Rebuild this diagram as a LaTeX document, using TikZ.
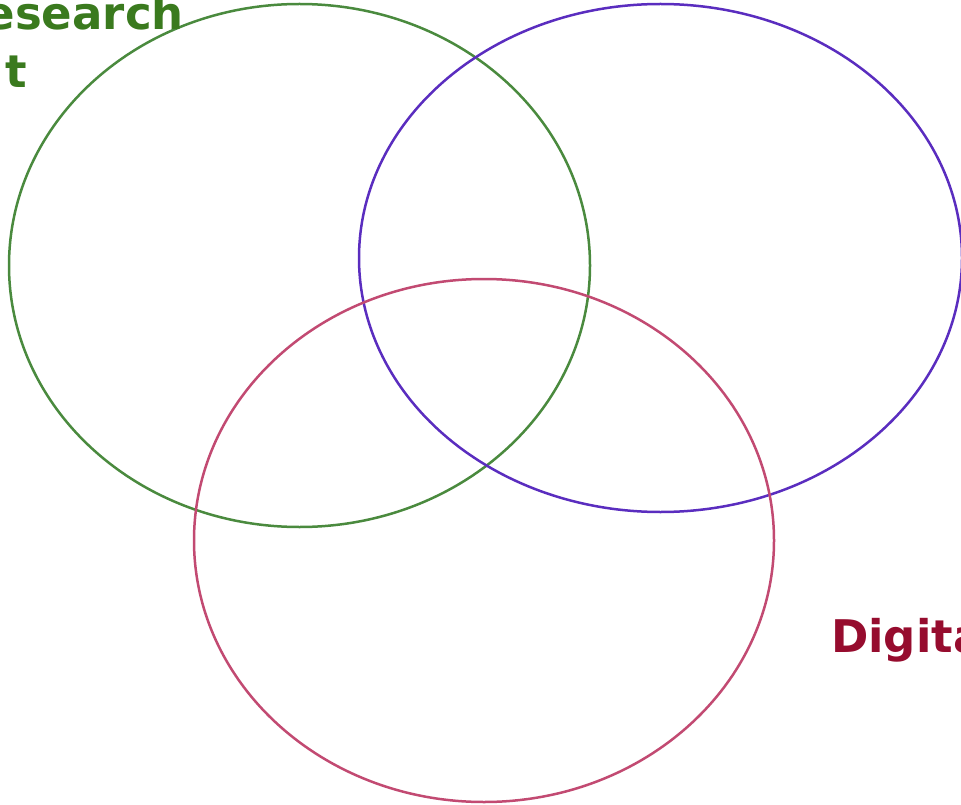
\documentclass[tikz,border=0pt]{standalone}
\usepackage{fontspec}
\newfontfamily\labelfont{DejaVu Sans}
\usetikzlibrary{shapes.geometric, positioning}

\definecolor{setgreen}{HTML}{4A8A3E}
\definecolor{setpurple}{HTML}{5A2DBF}
\definecolor{setpink}{HTML}{C24A72}
\definecolor{textgreen}{HTML}{3A7A1E}
\definecolor{textred}{HTML}{960C2E}

\begin{document}
\begin{tikzpicture}[
    x=1pt, y=-1pt,
    set/.style={draw, ellipse, line width=2.5pt, inner sep=0pt},
    setlabel/.style={font=\labelfont\bfseries\fontsize{45}{53}\selectfont, inner sep=0pt}
]
\useasboundingbox (0,0) rectangle (961,805);
\clip (0,0) rectangle (961,805);

% Sets
\node[set, setgreen, minimum width=581pt, minimum height=523pt] (research) at (299.5,265.5) {};
\node[set, setpurple, minimum width=603pt, minimum height=508pt] (other) at (660.5,258) {};
\node[set, setpink, minimum width=580pt, minimum height=523pt] (digital) at (484,540.5) {};

% Labels
\node[setlabel, textgreen, anchor=base east] (researchtop) at (184,30) {Research};
\node[setlabel, textgreen, anchor=base east] (researchbottom) at (27,88) {t};
\node[setlabel, textred, anchor=base west] (digitallabel) at (831,652) {Digital};

\end{tikzpicture}
\end{document}
